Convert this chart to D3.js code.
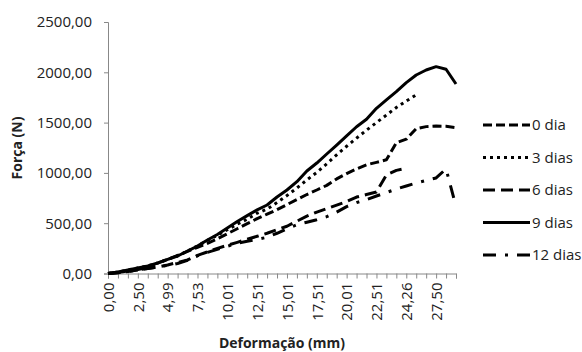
<!DOCTYPE html>
<html>
<head>
<meta charset="utf-8">
<script src="https://cdn.jsdelivr.net/npm/d3@7"></script>
<style>
  body { margin: 0; background: #fff; }
  svg { display: block; }
  text { font-family: "Open Sans", sans-serif; fill: #222; }
</style>
</head>
<body>
<div id="chart"></div>
<script>
// deformation categories (mm); only every 3rd is labelled
const categories = ["0,00","0,83","1,66","2,50","3,33","4,16","4,99","5,84","6,69","7,53",
  "8,36","9,18","10,01","10,84","11,68","12,51","13,34","14,18","15,01","15,84","16,68",
  "17,51","18,34","19,18","20,01","20,84","21,68","22,51","23,09","23,68","24,26","25,34",
  "26,42","27,50","28,58","29,66"];
const yTicks = [0, 500, 1000, 1500, 2000, 2500];
const seriesNames = ["0 dia", "3 dias", "6 dias", "9 dias", "12 dias"];

const dia0 = [0,10,25,40,60,105,140,180,220,260,300,345,395,445,495,545,590,635,685,735,
  785,830,876,940,993,1040,1080,1105,1130,1300,1335,1440,1460,1465,1463,1450];
const dias3 = [0,15,35,55,75,104,140,174,224,273,330,380,435,490,540,600,640,705,775,850,
  930,1005,1090,1180,1265,1345,1425,1500,1575,1650,1715,1775];
const dias6 = [0,8,20,35,50,65,85,110,135,180,215,250,280,310,340,370,400,435,470,520,
  570,610,645,680,715,760,785,810,980,1025,1045];
const dias9 = [0,15,35,55,75,104,140,174,224,273,333,388,452,517,575,633,681,760,830,913,
  1019,1098,1188,1277,1367,1459,1533,1642,1725,1807,1897,1973,2023,2056,2030,1884];
const dias12 = [0,8,20,35,50,65,80,100,130,175,210,240,270,300,320,340,360,400,445,485,
  510,535,565,610,665,705,735,770,805,840,870,900,925,950,1040,665];

const allSeries = [dia0, dias3, dias6, dias9, dias12];
const dashes = ["9,4", "3,4", "12,6", null, "13,9,3,9"];

const width = 582, height = 352;
const svg = d3.select("#chart").append("svg")
  .attr("width", width).attr("height", height);

const x = d3.scalePoint().domain(categories).range([108, 456]);
const y = d3.scaleLinear().domain([0, 2500]).range([273.5, 22]);
const fmt = v => d3.format(".2f")(v).replace(".", ",");

// y axis
const yAxis = svg.append("g")
  .attr("transform", "translate(108,0)")
  .call(d3.axisLeft(y).tickValues(yTicks).tickFormat(fmt).tickSize(4).tickPadding(12));
yAxis.selectAll("text").style("font-size", "15px").attr("fill", "#222");

// x axis
const xAxis = svg.append("g")
  .attr("transform", "translate(0,273.5)")
  .call(d3.axisBottom(x).tickSize(5)
    .tickFormat((d, i) => i % 3 === 0 ? d : ""));
xAxis.selectAll("text")
  .style("font-size", "15px").attr("fill", "#222")
  .attr("text-anchor", "end")
  .attr("transform", "rotate(-90)")
  .attr("x", -9).attr("y", 0).attr("dy", "0.35em");

svg.selectAll(".domain, .tick line").attr("stroke", "#888");

// lines
const line = d3.line()
  .x((d, i) => x(categories[i]))
  .y(d => y(d));

allSeries.forEach((s, k) => {
  svg.append("path")
    .attr("d", line(s))
    .attr("fill", "none")
    .attr("stroke", "#000")
    .attr("stroke-width", 3)
    .attr("stroke-linejoin", "round")
    .attr("stroke-dasharray", dashes[k]);
});

// legend
const legend = svg.append("g");
seriesNames.forEach((name, k) => {
  const ly = 125 + k * 32.5;
  legend.append("line")
    .attr("x1", 483).attr("x2", 530).attr("y1", ly).attr("y2", ly)
    .attr("stroke", "#000").attr("stroke-width", 3)
    .attr("stroke-dasharray", dashes[k]);
  legend.append("text")
    .attr("x", 532).attr("y", ly).attr("dy", "0.35em")
    .style("font-size", "15px")
    .text(name);
});

// axis titles
svg.append("text")
  .attr("transform", "translate(17,148) rotate(-90)")
  .attr("text-anchor", "middle").attr("dy", "0.35em")
  .style("font-size", "14px").style("font-weight", "bold")
  .text("Força (N)");
svg.append("text")
  .attr("x", 282).attr("y", 343).attr("text-anchor", "middle").attr("dy", "0.35em")
  .style("font-size", "14px").style("font-weight", "bold")
  .text("Deformação (mm)");
</script>
</body>
</html>
